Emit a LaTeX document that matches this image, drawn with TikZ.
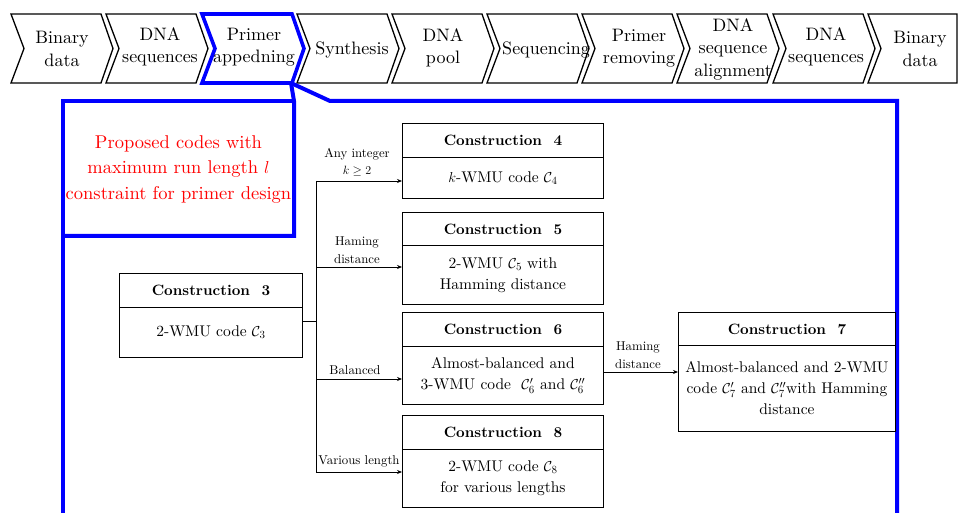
\documentclass[tikz,border=0pt]{standalone}
\usepackage{fontspec}
\setmainfont{lmroman10-regular.otf}[BoldFont=lmroman10-bold.otf, ItalicFont=lmroman10-italic.otf, BoldItalicFont=lmroman10-bolditalic.otf]
\usetikzlibrary{arrows.meta}
\begin{document}
\begin{tikzpicture}[x=1pt,y=-1pt,
  chev/.style={draw=black, line width=1.3pt, line join=miter},
  chevsel/.style={draw=blue, line width=3.6pt, line join=miter},
  chevtext/.style={align=center, inner sep=0pt, font=\fontsize{18}{22.5}\selectfont},
  ctitle/.style={draw, line width=0.9pt, anchor=north west, inner sep=0pt, font=\fontsize{15}{18}\selectfont\bfseries},
  cbody/.style={draw, line width=0.9pt, anchor=north west, inner sep=0pt, align=center, font=\fontsize{15.5}{21}\selectfont},
  lbl/.style={align=center, inner sep=0pt, font=\fontsize{12.8}{17.5}\selectfont},
  arr/.style={-{Stealth[length=5pt,width=4pt]}, line width=0.8pt},
  wire/.style={line width=0.8pt},
  frame/.style={draw=blue, line width=4pt, line join=miter}
]
\useasboundingbox (0,0) rectangle (959,513);
\clip (0,0) rectangle (959,513);

% process chevrons along the top
\newcommand\chevshape[2]{\draw[#2] (#1,14) -- ++(90,0) -- ++(12,34.5) -- ++(-12,34.5) -- ++(-90,0) -- ++(13,-34.5) -- cycle;}
\chevshape{11}{chev}
\node[chevtext] (s0) at (62,49) {Binary\\data};
\chevshape{106}{chev}
\node[chevtext] (s1) at (160,47) {DNA\\sequences};
\chevshape{202}{chevsel}
\node[chevtext] (s2) at (254,47) {Primer\\appedning};
\chevshape{297}{chev}
\node[chevtext] (s3) at (352,50) {Synthesis};
\chevshape{392}{chev}
\node[chevtext] (s4) at (443,48) {DNA\\pool};
\chevshape{487}{chev}
\node[chevtext] (s5) at (546,50) {Sequencing};
\chevshape{582}{chev}
\node[chevtext] (s6) at (639,48) {Primer\\removing};
\chevshape{677}{chev}
\node[chevtext] (s7) at (733,49) {DNA\\sequence\\alignment};
\chevshape{773}{chev}
\node[chevtext] (s8) at (826,47) {DNA\\sequences};
\draw[chev] (868,14) -- (957,14) -- (957,83) -- (868,83) -- (881,48.5) -- cycle;
\node[chevtext] (s9) at (920,49) {Binary\\data};

% blue call-out frame
\coordinate (tip) at (291,83);
\draw[frame] (63,520) -- (63,101) -- (294,101);
\draw[frame] (tip) -- (294,101) -- (294,236) -- (63,236);
\draw[frame] (tip) -- (330,101) -- (897,101) -- (897,520);
\node[align=center, inner sep=0pt, text=red, font=\fontsize{18.5}{25.5}\selectfont] (note) at (178.5,169)
  {Proposed codes with\\maximum run length $l$\\constraint for primer design};

% construction boxes
\node[ctitle, minimum width=183pt, minimum height=34pt] (t3) at (119,273) {Construction~~3};
\node[cbody, minimum width=183pt, minimum height=50pt] (b3) at (119,307) {2-WMU code $\mathcal{C}_3$};

\node[ctitle, minimum width=201pt, minimum height=34pt] (t4) at (402,123) {Construction~~4};
\node[cbody, minimum width=201pt, minimum height=41pt] (b4) at (402,157) {$k$-WMU code $\mathcal{C}_4$};

\node[ctitle, minimum width=201pt, minimum height=33pt] (t5) at (402,212) {Construction~~5};
\node[cbody, minimum width=201pt, minimum height=59pt] (b5) at (402,245) {2-WMU $\mathcal{C}_5$ with\\Hamming distance};

\node[ctitle, minimum width=201pt, minimum height=34pt] (t6) at (402,312) {Construction~~6};
\node[cbody, minimum width=201pt, minimum height=58pt] (b6) at (402,346) {Almost-balanced and\\3-WMU code~ $\mathcal{C}_6'$ and $\mathcal{C}_6''$};

\node[ctitle, minimum width=201pt, minimum height=34pt] (t8) at (402,415) {Construction~~8};
\node[cbody, minimum width=201pt, minimum height=58pt] (b8) at (402,449) {2-WMU code $\mathcal{C}_8$\\for various lengths};

\node[ctitle, minimum width=217pt, minimum height=33pt] (t7) at (678,312) {Construction~~7};
\node[cbody, minimum width=217pt, minimum height=86pt] (b7) at (678,345) {Almost-balanced and 2-WMU\\code $\mathcal{C}_7'$ and $\mathcal{C}_7''$with Hamming\\distance};

% branching connectors
\coordinate (j) at (316,321);
\coordinate (a4) at (316,181);
\coordinate (a5) at (316,267);
\coordinate (a6) at (316,379);
\coordinate (a8) at (316,472);
\draw[wire] (b3.east |- j) -- (j);
\draw[wire] (a4) -- (a8);
\draw[arr] (a4) -- (a4 -| b4.west);
\draw[arr] (a5) -- (a5 -| b5.west);
\draw[arr] (a6) -- (a6 -| b6.west);
\draw[arr] (a8) -- (a8 -| b8.west);
\coordinate (a7) at (603,372);
\draw[arr] (a7 -| b6.east) -- (a7 -| b7.west);

\node[lbl] (l4) at (357,162) {Any integer\\$k\geq 2$};
\node[lbl] (l5) at (357,250) {Haming\\distance};
\node[lbl] (l6) at (355,370) {Balanced};
\node[lbl] (l8) at (359,461) {Various length};
\node[lbl] (l7) at (638,355) {Haming\\distance};
\end{tikzpicture}
\end{document}
